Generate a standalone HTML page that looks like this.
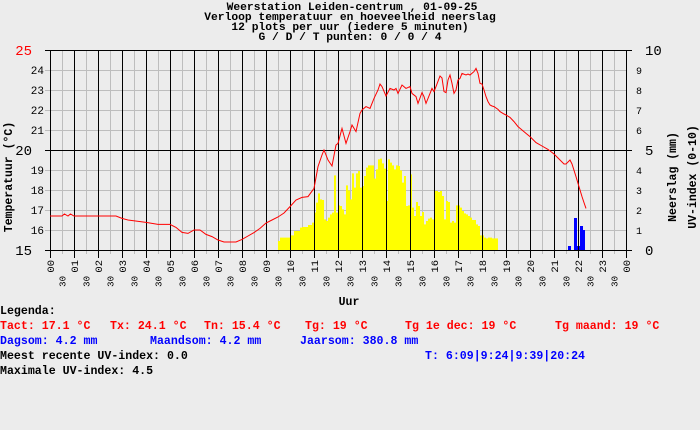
<!DOCTYPE html>
<html><head><meta charset="utf-8">
<style>
html,body{margin:0;padding:0;background:#ececec;}
body{width:700px;height:430px;overflow:hidden;position:relative;font-family:"Liberation Mono","DejaVu Sans Mono",monospace;}
svg{position:absolute;left:0;top:0;}
.t{font-family:"Liberation Mono","DejaVu Sans Mono",monospace;font-weight:bold;}
.leg{position:absolute;font-family:"Liberation Mono",monospace;font-weight:bold;font-size:11.6px;white-space:pre;line-height:12px;}
.r{color:#ff0000}.b{color:#0000ff}.k{color:#000}
</style></head>
<body>
<svg id="chart" width="700" height="430" xmlns="http://www.w3.org/2000/svg">
<g class="t" font-size="11.3" text-anchor="middle" fill="#000">
<text x="352" y="10">Weerstation Leiden-centrum , 01-09-25</text>
<text x="350" y="20">Verloop temperatuur en hoeveelheid neerslag</text>
<text x="350" y="30">12 plots per uur (iedere 5 minuten)</text>
<text x="350" y="40">G / D / T punten: 0 / 0 / 4</text>
</g>
<g id="grid"></g>
<g id="uvbars"></g>
<g id="rainbars"></g>
<g id="major"></g>
<polyline id="templine" fill="none" stroke="#ff0000" stroke-width="1"/>
<g id="axes"></g>
<text class="t" font-size="11.5" transform="translate(12,177) rotate(-90)" text-anchor="middle">Temperatuur (°C)</text>
<text class="t" font-size="11.5" transform="translate(676,177) rotate(-90)" text-anchor="middle">Neerslag (mm)</text>
<text class="t" font-size="11.5" transform="translate(696,177) rotate(-90)" text-anchor="middle">UV-index (0-10)</text>
<text class="t" font-size="11.5" x="349" y="305" text-anchor="middle">Uur</text>
</svg>
<div class="leg k" style="left:0;top:306px">Legenda:</div>
<div class="leg r" style="left:0;top:321px">Tact: 17.1 °C</div>
<div class="leg r" style="left:110px;top:321px">Tx: 24.1 °C</div>
<div class="leg r" style="left:204px;top:321px">Tn: 15.4 °C</div>
<div class="leg r" style="left:305px;top:321px">Tg: 19 °C</div>
<div class="leg r" style="left:405px;top:321px">Tg 1e dec: 19 °C</div>
<div class="leg r" style="left:555px;top:321px">Tg maand: 19 °C</div>
<div class="leg b" style="left:0;top:336px">Dagsom: 4.2 mm</div>
<div class="leg b" style="left:150px;top:336px">Maandsom: 4.2 mm</div>
<div class="leg b" style="left:300px;top:336px">Jaarsom: 380.8 mm</div>
<div class="leg k" style="left:0;top:351px">Meest recente UV-index: 0.0</div>
<div class="leg b" style="left:425px;top:351px">T: 6:09|9:24|9:39|20:24</div>
<div class="leg k" style="left:0;top:366px">Maximale UV-index: 4.5</div>
<script>
// temperature: [hour, degC]
const tempHours=[0,0.5,0.6,0.75,0.85,1,2,2.75,3,3.25,4,4.5,5,5.25,5.5,5.75,6,6.25,6.5,6.75,7,7.25,7.5,7.75,8,8.25,8.5,8.75,9,9.25,9.5,9.75,10,10.25,10.5,10.75,11,11.167,11.333,11.417,11.583,11.75,11.917,12,12.167,12.333,12.5,12.583,12.75,12.917,13,13.167,13.333,13.5,13.667,13.75,13.833,14,14.167,14.333,14.417,14.5,14.667,14.833,15,15.083,15.25,15.333,15.5,15.583,15.667,15.833,15.917,16,16.083,16.25,16.333,16.417,16.5,16.583,16.667,16.75,16.833,16.917,17,17.083,17.167,17.333,17.417,17.5,17.667,17.75,17.833,17.917,18,18.083,18.167,18.25,18.333,18.417,18.5,18.667,18.75,18.917,19,19.167,19.333,19.5,19.667,19.833,20,20.25,20.5,20.75,21,21.25,21.417,21.5,21.667,21.75,21.917,22,22.083,22.167,22.25,22.333];
const tempValues=[16.7,16.7,16.8,16.7,16.8,16.7,16.7,16.7,16.58,16.5,16.38,16.28,16.28,16.13,15.88,15.83,16.0,16.0,15.78,15.67,15.5,15.4,15.4,15.4,15.53,15.7,15.87,16.08,16.35,16.5,16.65,16.85,17.17,17.5,17.63,17.67,18.08,19.17,19.75,20.0,19.5,19.2,20.25,20.33,21.08,20.33,20.92,21.25,20.92,21.83,22.0,22.17,22.08,22.58,23.0,23.3,23.17,22.7,23.08,23.0,23.08,22.83,23.25,23.08,23.17,22.83,22.67,22.33,22.87,22.67,22.33,22.83,23.08,22.92,23.17,23.7,23.6,22.92,22.87,23.5,23.75,23.33,22.83,23.0,23.5,23.58,23.83,23.75,23.8,23.75,23.92,24.08,23.83,23.33,23.3,23.0,22.67,22.42,22.25,22.2,22.17,22.03,21.92,21.8,21.75,21.63,21.42,21.17,21.0,20.83,20.67,20.37,20.2,20.03,19.8,19.5,19.3,19.3,19.5,19.3,18.67,18.33,18.0,17.67,17.37,17.08];
// UV index every 5 minutes starting 09:30
const uvStartHour=9.5;
const uvValues=[0.45,0.62,0.62,0.62,0.62,0.62,0.73,0.73,0.95,0.95,0.95,1.12,1.15,1.15,1.15,1.25,1.25,1.37,1.87,2.37,2.83,2.53,2.5,1.53,1.45,1.62,1.78,1.87,3.73,1.87,2.23,2.2,2.03,1.78,3.23,2.98,2.53,3.83,3.12,3.83,3.95,3.12,3.2,3.7,4.12,4.23,4.23,4.23,3.57,4.03,4.53,4.57,4.33,4.07,2.45,4.53,4.37,4.23,4.03,4.23,4.2,3.98,3.37,3.7,2.2,2.23,3.78,2.12,1.7,2.4,2.2,1.7,1.9,1.28,1.45,1.57,1.62,1.53,2.95,2.95,2.9,2.95,2.7,1.53,2.45,2.4,1.37,1.45,1.37,2.23,2.23,2.12,1.95,1.83,1.78,1.7,1.62,1.5,1.5,1.28,1.2,0.73,0.73,0.62,0.58,0.62,0.62,0.58,0.58,0.58];
// rain (mm)
const rainHours=[21.583,21.958,21.833,22.083,22.167];
const rainValues=[0.2,0.2,1.6,1.2,1.0];
const leftTicks=[15,16,17,18,19,20,21,22,23,24,25];
const rightTicks=[0,1,2,3,4,5,6,7,8,9,10];

const X0=50,X1=626,Y0=250,Y1=50;
const xs=h=>X0+h*(X1-X0)/24;
const yT=t=>Y0-(t-15)*(Y0-Y1)/10;
const yR=v=>Y0-v*(Y0-Y1)/10;
const NS="http://www.w3.org/2000/svg";
function mk(tag,parent,attrs){const e=document.createElementNS(NS,tag);for(const k in attrs)e.setAttribute(k,attrs[k]);parent.appendChild(e);return e;}
const grid=document.getElementById('grid'),major=document.getElementById('major'),axes=document.getElementById('axes');
for(let i=0;i<48;i++){const x=xs(i/2);const l=mk('line',grid,{x1:x+.5,x2:x+.5,y1:Y1,y2:Y0+(i%2?4:0),stroke:'#bdbdbd'});

}
leftTicks.forEach(t=>{const y=yT(t);const l=mk('line',grid,{x1:X0-5,x2:X1,y1:y+.5,y2:y+.5,stroke:'#bdbdbd'});

});
for(let i=0;i<=24;i++){const x=xs(i);const l=mk('line',major,{x1:x+.5,x2:x+.5,y1:Y1,y2:Y0+8,stroke:'#000'});

}
[15,20,25].forEach(t=>{const y=yT(t);const l=mk('line',major,{x1:X0-5,x2:X1+6,y1:y+.5,y2:y+.5,stroke:'#000'});

});
const uvg=document.getElementById('uvbars');
uvValues.forEach((v,i)=>{const x=xs(uvStartHour+i/12);const y=yR(v);const r=mk('rect',uvg,{x:x,y:y,width:2,height:Y0-y,fill:'#ffff00'});

});
const rg=document.getElementById('rainbars');
rainValues.forEach((v,i)=>{const x=Math.round(xs(rainHours[i]));const y=yR(v);const r=mk('rect',rg,{x:x,y:y,width:3,height:Y0-y,fill:'#0000ff'});

});
document.getElementById('templine').setAttribute('points',tempHours.map((h,i)=>xs(h).toFixed(1)+','+yT(tempValues[i]).toFixed(1)).join(' '));
leftTicks.forEach(t=>{const y=yT(t);const big=(t%5===0);
const tx=mk('text',axes,{x:big?32:44,y:y+(big?5:4),'text-anchor':'end','font-size':big?14:11,fill:t===25?'#ff0000':'#000','font-family':'Liberation Mono, monospace'});
tx.textContent=t;

});
rightTicks.forEach(v=>{const y=yR(v);const big=(v%5===0);
const tx=mk('text',axes,{x:big?645:636,y:y+(big?5:4),'font-size':big?14:10,fill:'#000','font-family':'Liberation Mono, monospace'});
tx.textContent=v;

});
for(let i=0;i<=24;i++){const x=xs(i);
const tx=mk('text',axes,{'font-size':10.5,'font-family':'Liberation Mono, monospace','text-anchor':'end',transform:`translate(${x+4},${260}) rotate(-90)`});
tx.textContent=String(i%24).padStart(2,'0');


if(i<24){const t2=mk('text',axes,{'font-size':9,'font-family':'Liberation Mono, monospace','text-anchor':'end',transform:`translate(${xs(i+0.5)+3.5},${276}) rotate(-90)`});
t2.textContent='30';

}}
</script>
</body></html>
